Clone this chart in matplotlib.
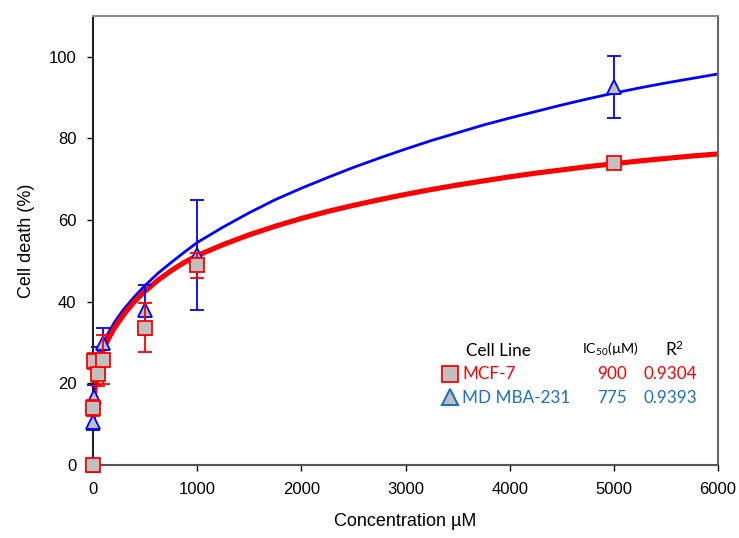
import numpy as np
import matplotlib.pyplot as plt

plt.rcParams['font.family'] = ['Liberation Sans', 'DejaVu Sans']

# measured points
conc = [0, 1, 10, 50, 100, 500, 1000, 5000]
mcf7 = [0, 14, 25.5, 22.3, 25.8, 33.6, 48.9, 74]
mcf7_err = [0, 2, 2, 3, 6, 6, 3, 1.5]
mda = [0, 10.6, 16.7, 25, 30, 38, 51.5, 92.5]
mda_err = [0, 2, 3, 4, 3.6, 6.1, 13.5, 7.6]

# fitted curves
fit_x = [2, 5, 10, 25, 50, 75, 100, 150, 200, 250, 300, 400, 500, 625, 750, 875,
         1000, 1250, 1500, 1750, 2000, 2250, 2500, 2750, 3000, 3250, 3500, 3750,
         4000, 4250, 4500, 4750, 5000, 5250, 5500, 5750, 6000]
fit_mcf7 = [9, 13, 16, 20, 24, 26.4, 28.3, 31, 33.3, 35.2, 37, 40.1, 42.6, 45.3, 47.6, 49.6,
            51.3, 54, 56.4, 58.5, 60.4, 62.1, 63.6, 65, 66.3, 67.5, 68.6, 69.6,
            70.6, 71.5, 72.3, 73.1, 73.8, 74.5, 75.1, 75.7, 76.2]
fit_mda = [9, 13, 16.5, 21, 25.5, 28, 29.9, 32.5, 34.7, 36.6, 38.3, 41.3, 44, 47, 49.6, 52.1,
           54.5, 58.3, 61.8, 65, 67.8, 70.4, 72.9, 75.2, 77.4, 79.5, 81.4, 83.3,
           85, 86.6, 88.2, 89.7, 91.1, 92.4, 93.6, 94.7, 95.8]

RED = '#ff0000'
BLUE = '#0000ff'
TXT_BLUE = '#1f6fc5'
GRAY = '#c0c0c0'

W, H = 739, 538
fig = plt.figure(figsize=(W / 100, H / 100), dpi=100)
ax = fig.add_axes([93 / W, 1 - 465 / H, (718 - 93) / W, (465 - 16) / H])

ax.plot(fit_x, fit_mda, color=BLUE, lw=2, zorder=2, solid_joinstyle='round')
ax.plot(fit_x, fit_mcf7, color=RED, lw=3.7, zorder=2, solid_joinstyle='round')

ax.errorbar(conc, mda, yerr=mda_err, fmt='^', ms=10, mfc=GRAY, mec=BLUE, mew=1.3,
            ecolor=BLUE, elinewidth=1.3, capsize=5, capthick=1.3, zorder=3, clip_on=False)
ax.errorbar(conc, mcf7, yerr=mcf7_err, fmt='s', ms=10, mfc=GRAY, mec=RED, mew=1.3,
            ecolor=RED, elinewidth=1.3, capsize=5, capthick=1.3, zorder=4, clip_on=False)

ax.set_xlim(0, 6000)
ax.set_ylim(0, 110)
ax.set_xticks(range(0, 6001, 1000))
ax.set_yticks(range(0, 101, 20))
ax.tick_params(direction='out', length=4, width=1, labelsize=12, pad=8)

ax.spines['left'].set_color('#222222')
ax.spines['bottom'].set_color('#555555')
ax.spines['top'].set_color('#8c8c8c')
ax.spines['right'].set_color('#666666')
for s in ax.spines.values():
    s.set_linewidth(1.5)

ax.set_xlabel('Concentration µM', fontsize=13, labelpad=12)
ax.set_ylabel('Cell death (%)', fontsize=13, labelpad=10)

# legend table
def fx(x):
    return x / W

def fy(y):
    return 1 - y / H

lf = 'Lato'
fs = 12.3
fig.text(fx(466), fy(351), 'Cell Line', family=lf, fontsize=fs, va='center')
fig.text(fx(582), fy(349), r'$\mathregular{IC_{50}}$(µM)', family=lf, fontsize=10.3, va='center')
fig.text(fx(665), fy(349), r'$\mathregular{R^{2}}$', family=lf, fontsize=fs, va='center')

fig.text(fx(462), fy(374), 'MCF-7', family=lf, fontsize=fs, color=RED, va='center')
fig.text(fx(627), fy(374), '900', family=lf, fontsize=fs, color=RED, va='center', ha='right')
fig.text(fx(697), fy(374), '0.9304', family=lf, fontsize=fs, color=RED, va='center', ha='right')
fig.text(fx(462), fy(398), 'MD MBA-231', family=lf, fontsize=fs, color=TXT_BLUE, va='center')
fig.text(fx(627), fy(398), '775', family=lf, fontsize=fs, color=TXT_BLUE, va='center', ha='right')
fig.text(fx(697), fy(398), '0.9393', family=lf, fontsize=fs, color=TXT_BLUE, va='center', ha='right')

fig.add_artist(plt.Line2D([fx(450)], [fy(374)], marker='s', ms=11, mfc=GRAY, mec=RED, mew=1.3))
fig.add_artist(plt.Line2D([fx(450)], [fy(397)], marker='^', ms=11, mfc=GRAY, mec=TXT_BLUE, mew=1.5))

fig.savefig('out.png', dpi=100)
